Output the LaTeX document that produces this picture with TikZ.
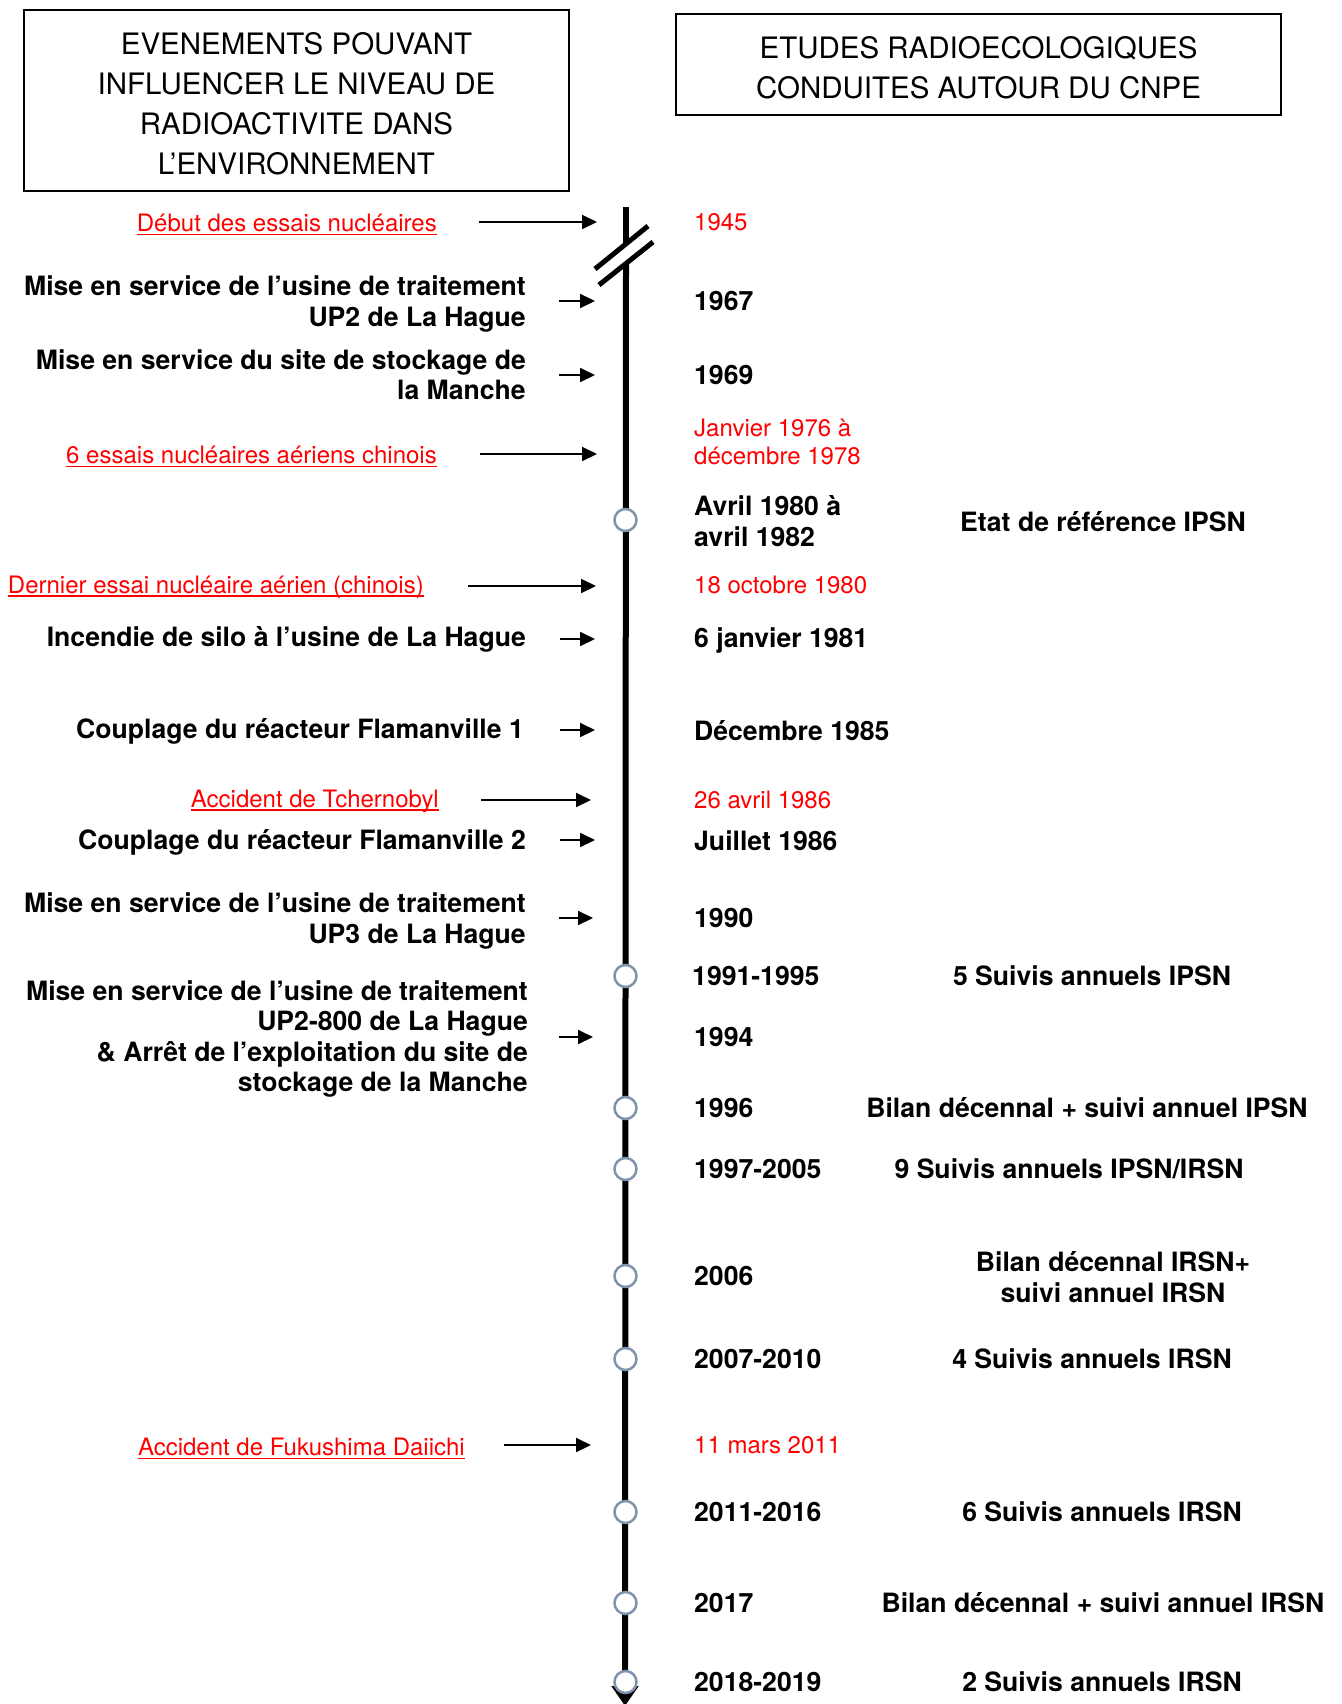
\documentclass[tikz,border=0pt]{standalone}
\usepackage{fontspec}
\setmainfont{TeX Gyre Heros}
\usetikzlibrary{arrows.meta}
\definecolor{circ}{HTML}{7F93AE}
\definecolor{evred}{HTML}{FF0000}
\newcommand{\ulnode}[1]{\draw[evred, line width=1.6pt] ([yshift=-3pt]#1.base west) -- ([yshift=-3pt]#1.base east);}
\begin{document}
\begin{tikzpicture}[x=1pt,y=-1pt,
  ev/.style={anchor=east, inner sep=0pt, align=right, font=\fontsize{26.6}{30.4}\selectfont\bfseries},
  redev/.style={anchor=east, inner sep=0pt, text=evred, font=\fontsize{24}{28}\selectfont},
  datebox/.style={anchor=west, inner sep=0pt, align=left, font=\fontsize{26.6}{30.4}\selectfont\bfseries},
  reddate/.style={anchor=west, inner sep=0pt, align=left, text=evred, font=\fontsize{24}{28}\selectfont},
  study/.style={anchor=center, inner sep=0pt, align=center, font=\fontsize{26.6}{30.4}\selectfont\bfseries},
  hdr/.style={draw, line width=1.5pt, inner sep=0pt, align=center, font=\fontsize{29.5}{40}\selectfont},
  hdrtext/.style={inner sep=0pt, align=center, font=\fontsize{29.5}{40}\selectfont},
  arr/.style={line width=2pt, -{Triangle[length=15pt,width=14pt]}},
  ring/.style={circle, draw=circ, fill=white, line width=2.5pt, minimum size=22pt, inner sep=0pt}
]
\useasboundingbox (0,0) rectangle (1341,1704);

% headers
\node[hdr, minimum width=545pt, minimum height=181pt] (hl) at (296.5,100.5) {};
\node[hdrtext] (hlt) at (296.5,104)
  {EVENEMENTS POUVANT\\INFLUENCER LE NIVEAU DE\\RADIOACTIVITE DANS\\L’ENVIRONNEMENT};
\node[hdr, minimum width=605pt, minimum height=101pt] (hr) at (978.5,64.5) {};
\node[hdrtext] (hrt) at (978.5,68)
  {ETUDES RADIOECOLOGIQUES\\CONDUITES AUTOUR DU CNPE};

% timeline
\draw[line width=6pt] (626,207) -- (626,244);
\draw[line width=6pt, -{Triangle[length=20pt,width=26pt]}] (626,263) -- (625,1706);
\draw[line width=5pt] (595,269) -- (648,226);
\draw[line width=5pt] (599,285) -- (653,242);

% left events
\node[redev] (e1) at (437,223) {Début des essais nucléaires};
\node[ev] (e2) at (526,304) {Mise en service de l’usine de traitement\\UP2 de La Hague};
\node[ev] (e3) at (526,375) {Mise en service du site de stockage de\\la Manche};
\node[redev] (e4) at (437,455) {6 essais nucléaires aériens chinois};
\node[redev] (e5) at (424,587) {Dernier essai nucléaire aérien (chinois)};
\node[ev] (e6) at (526,639) {Incendie de silo à l’usine de La Hague};
\node[ev] (e7) at (524,731) {Couplage du réacteur Flamanville 1};
\node[redev] (e8) at (439,801) {Accident de Tchernobyl};
\node[ev] (e9) at (526,842) {Couplage du réacteur Flamanville 2};
\node[ev] (e10) at (526,921) {Mise en service de l’usine de traitement\\UP3 de La Hague};
\node[ev] (e11) at (528,1039) {Mise en service de l’usine de traitement\\UP2-800 de La Hague\\\& Arrêt de l’exploitation du site de\\stockage de la Manche};
\node[redev] (e12) at (465,1447) {Accident de Fukushima Daiichi};
\ulnode{e1}\ulnode{e4}\ulnode{e5}\ulnode{e8}\ulnode{e12}

% arrows
\coordinate (a1s) at (479,222);  \coordinate (a1e) at (597,222);
\coordinate (a2s) at (559,301);  \coordinate (a2e) at (595,301);
\coordinate (a3s) at (559,375);  \coordinate (a3e) at (595,375);
\coordinate (a4s) at (480,454);  \coordinate (a4e) at (597,454);
\coordinate (a5s) at (468,586);  \coordinate (a5e) at (596,586);
\coordinate (a6s) at (560,639);  \coordinate (a6e) at (595,639);
\coordinate (a7s) at (560,730);  \coordinate (a7e) at (595,730);
\coordinate (a8s) at (481,800);  \coordinate (a8e) at (591,800);
\coordinate (a9s) at (560,840);  \coordinate (a9e) at (595,840);
\coordinate (a10s) at (559,918); \coordinate (a10e) at (593,918);
\coordinate (a11s) at (559,1037);\coordinate (a11e) at (593,1037);
\coordinate (a12s) at (504,1445);\coordinate (a12e) at (591,1445);
\foreach \i in {1,...,12} {\draw[arr] (a\i s) -- (a\i e);}

% dates
\node[reddate] (d1) at (694,222) {1945};
\node[datebox] (d2) at (694,301) {1967};
\node[datebox] (d3) at (694,375) {1969};
\node[reddate] (d4) at (694,442) {Janvier 1976 à\\décembre 1978};
\node[datebox] (d5) at (694,521) {Avril 1980 à\\avril 1982};
\node[reddate] (d6) at (694,585) {18 octobre 1980};
\node[datebox] (d7) at (694,640) {6 janvier 1981};
\node[datebox] (d8) at (694,731) {Décembre 1985};
\node[reddate] (d9) at (694,800) {26 avril 1986};
\node[datebox] (d10) at (694,841) {Juillet 1986};
\node[datebox] (d11) at (694,918) {1990};
\node[datebox] (d12) at (692,976) {1991-1995};
\node[datebox] (d13) at (694,1037) {1994};
\node[datebox] (d14) at (694,1108) {1996};
\node[datebox] (d15) at (694,1169) {1997-2005};
\node[datebox] (d16) at (694,1276) {2006};
\node[datebox] (d17) at (694,1359) {2007-2010};
\node[reddate] (d18) at (694,1445) {11 mars 2011};
\node[datebox] (d19) at (694,1512) {2011-2016};
\node[datebox] (d20) at (694,1603) {2017};
\node[datebox] (d21) at (694,1682) {2018-2019};

% studies
\node[study] (s1) at (1103,522) {Etat de référence IPSN};
\node[study] (s2) at (1092,976) {5 Suivis annuels IPSN};
\node[study] (s3) at (1087,1108) {Bilan décennal + suivi annuel IPSN};
\node[study] (s4) at (1069,1169) {9 Suivis annuels IPSN/IRSN};
\node[study] (s5) at (1113,1277) {Bilan décennal IRSN+\\suivi annuel IRSN};
\node[study] (s6) at (1092,1359) {4 Suivis annuels IRSN};
\node[study] (s7) at (1102,1512) {6 Suivis annuels IRSN};
\node[study] (s8) at (1103,1603) {Bilan décennal + suivi annuel IRSN};
\node[study] (s9) at (1102,1682) {2 Suivis annuels IRSN};

% rings
\foreach \y [count=\k] in {520,976,1108,1169,1276,1359,1512,1603,1682}
  \node[ring] (c\k) at (625.5,\y) {};
\end{tikzpicture}
\end{document}
